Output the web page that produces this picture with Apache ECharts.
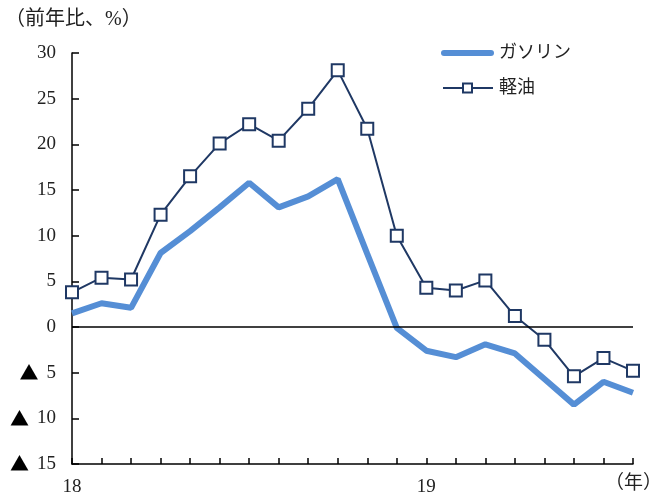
<!DOCTYPE html>
<html>
<head>
<meta charset="utf-8">
<script src="https://cdn.jsdelivr.net/npm/echarts@6/dist/echarts.min.js"></script>
<style>
html,body{margin:0;padding:0;background:#fff;}
#chart{width:656px;height:495px;}
</style>
</head>
<body>
<div id="chart"></div>
<script>
// Monthly categories, Jan 2018 – Aug 2019
const months = ['18/1','18/2','18/3','18/4','18/5','18/6','18/7','18/8','18/9','18/10','18/11','18/12',
                '19/1','19/2','19/3','19/4','19/5','19/6','19/7','19/8'];
// Year labels shown under the first month of each year
const yearLabels = {'18/1': '18', '19/1': '19'};
// Year-on-year change, %
const gasoline = [1.5, 2.6, 2.1, 8.1, 10.5, 13.1, 15.8, 13.1, 14.3, 16.2, 8.0, -0.1,
                  -2.6, -3.3, -1.9, -2.9, -5.7, -8.5, -6.0, -7.2];
const diesel   = [3.8, 5.4, 5.2, 12.3, 16.5, 20.1, 22.2, 20.4, 23.9, 28.1, 21.7, 10.0,
                  4.3, 4.0, 5.1, 1.2, -1.4, -5.4, -3.4, -4.8];
const seriesNames = ['ガソリン', '軽油'];

const serif = "'Liberation Serif', 'Noto Sans CJK JP', serif";
const gasColor = '#558ED5';
const dieselColor = '#1F3864';
const textColor = '#222';

// Hand-built legend: thick line for gasoline, thin line with a square for diesel
const legendX = 441, legendY = [53, 88];
const legendGraphics = [
  {type: 'line', shape: {x1: legendX + 3, y1: legendY[0], x2: legendX + 50, y2: legendY[0]},
   style: {stroke: gasColor, lineWidth: 6, lineCap: 'round'}},
  {type: 'line', shape: {x1: legendX + 2, y1: legendY[1], x2: legendX + 52, y2: legendY[1]},
   style: {stroke: dieselColor, lineWidth: 2}},
  {type: 'rect', shape: {x: legendX + 22, y: legendY[1] - 4.5, width: 9, height: 9},
   style: {fill: '#fff', stroke: dieselColor, lineWidth: 2}},
  {type: 'text', x: legendX + 58, y: legendY[0],
   style: {text: seriesNames[0], font: '18px ' + serif, fill: textColor, verticalAlign: 'middle'}},
  {type: 'text', x: legendX + 58, y: legendY[1],
   style: {text: seriesNames[1], font: '18px ' + serif, fill: textColor, verticalAlign: 'middle'}}
];

const chart = echarts.init(document.getElementById('chart'));
chart.setOption({
  animation: false,
  backgroundColor: '#fff',
  grid: {left: 72, right: 23, top: 53, bottom: 31, containLabel: false, outerBoundsMode: 'none'},
  title: {
    text: '（前年比、%）', left: 0, top: 5,
    textStyle: {fontFamily: serif, fontSize: 20, fontWeight: 'normal', color: textColor}
  },
  graphic: legendGraphics,
  xAxis: {
    type: 'category', data: months, boundaryGap: false,
    axisLine: {onZero: false, lineStyle: {color: '#000', width: 1.5}},
    axisTick: {inside: true, length: 6, interval: 0, lineStyle: {color: '#000', width: 1.5}},
    axisLabel: {
      interval: 0, margin: 14, fontFamily: serif, fontSize: 19, color: textColor,
      formatter: v => yearLabels[v] || ''
    },
    name: '（年）', nameLocation: 'end', nameGap: -28,
    nameTextStyle: {fontFamily: serif, fontSize: 19, color: textColor, verticalAlign: 'top',
                    padding: [11, 0, 0, 0]},
    splitLine: {show: false}
  },
  yAxis: {
    type: 'value', min: -15, max: 30, interval: 5,
    axisLine: {show: true, lineStyle: {color: '#000', width: 1.5}},
    axisTick: {show: true, inside: true, length: 7, lineStyle: {color: '#000', width: 1.5}},
    axisLabel: {
      margin: 16, fontFamily: serif, fontSize: 19, color: textColor,
      formatter: v => v < 0 ? '{tri|▲}' + (-v) : String(v),
      rich: {tri: {fontFamily: "'Noto Sans CJK JP', sans-serif", fontSize: 19, color: '#000',
                   padding: [0, 8, 0, 0]}}
    },
    splitLine: {show: false}
  },
  series: [
    {
      name: seriesNames[0], type: 'line', data: gasoline,
      symbol: 'none', z: 2,
      lineStyle: {color: gasColor, width: 6},
      itemStyle: {color: gasColor}
    },
    {
      name: seriesNames[1], type: 'line', data: diesel,
      symbol: 'rect', symbolSize: 12, z: 3,
      lineStyle: {color: dieselColor, width: 2},
      itemStyle: {color: '#fff', borderColor: dieselColor, borderWidth: 2},
      markLine: {
        silent: true, symbol: 'none', label: {show: false},
        lineStyle: {color: '#000', width: 1.5, type: 'solid'},
        data: [{yAxis: 0}]
      }
    }
  ]
});
</script>
</body>
</html>
